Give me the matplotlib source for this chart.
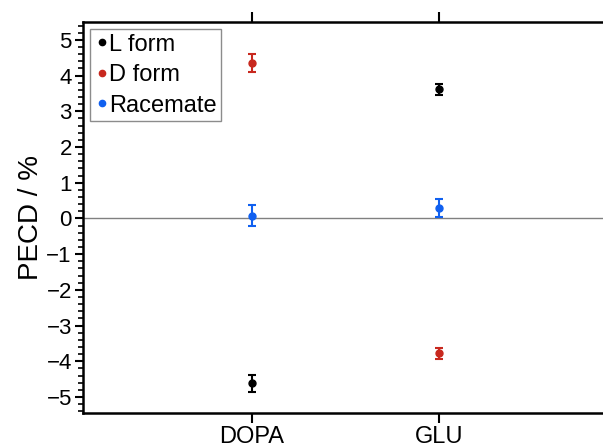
import matplotlib.pyplot as plt
from matplotlib.lines import Line2D
from matplotlib.ticker import MultipleLocator

plt.rcParams['font.family'] = ['Liberation Sans', 'DejaVu Sans']

samples = ["DOPA", "GLU"]
series = ["L form", "D form", "Racemate"]
pecd = {
    "L form": [-4.62, 3.61],
    "D form": [4.34, -3.78],
    "Racemate": [0.08, 0.28],
}
pecd_err = {
    "L form": [0.24, 0.15],
    "D form": [0.25, 0.15],
    "Racemate": [0.30, 0.25],
}
colors = {"L form": "#000000", "D form": "#c8281e", "Racemate": "#1060f0"}

fig = plt.figure(figsize=(6.03, 4.48), dpi=100)
ax = fig.add_axes([0.1376, 0.078, 0.8624, 0.873])

xpos = [1, 2]
ax.axhline(0, color="#808080", lw=1.0, zorder=1)
for name in series:
    ax.errorbar(xpos, pecd[name], yerr=pecd_err[name], fmt="o", color=colors[name],
                ms=5, elinewidth=1.5, capsize=3, capthick=1.5, zorder=3)

ax.set_xlim(0.1, 2.877)
ax.set_ylim(-5.45, 5.5)
ax.set_xticks(xpos)
ax.set_xticklabels(samples, fontsize=17)
ax.yaxis.set_minor_locator(MultipleLocator(0.2))
ax.set_yticks(range(-5, 6))
ax.set_yticklabels([str(v).replace("-", "\u2212") for v in range(-5, 6)], fontsize=16)
ax.tick_params(axis="y", which="major", direction="out", length=6, width=1.5, pad=2)
ax.tick_params(axis="y", which="minor", direction="out", length=3.5, width=1.2)
ax.tick_params(axis="x", which="major", direction="out", length=7, width=1.5,
               top=True, pad=2)
ax.set_ylabel("PECD / %", fontsize=20, labelpad=2)

for side in ["left", "top", "bottom"]:
    ax.spines[side].set_linewidth(1.8)
ax.spines["right"].set_visible(False)

handles = [Line2D([], [], ls="none", marker="o", ms=4.5, color=colors[n]) for n in series]
leg = ax.legend(handles, series, loc="upper left", bbox_to_anchor=(0.0, 1.0),
                fontsize=17, handletextpad=0.0, handlelength=0.6, borderpad=0.2,
                labelspacing=0.36, borderaxespad=0.3, fancybox=False)
leg.get_frame().set_edgecolor("#707070")
leg.get_frame().set_linewidth(1.0)

fig.savefig("out.png", dpi=100)
